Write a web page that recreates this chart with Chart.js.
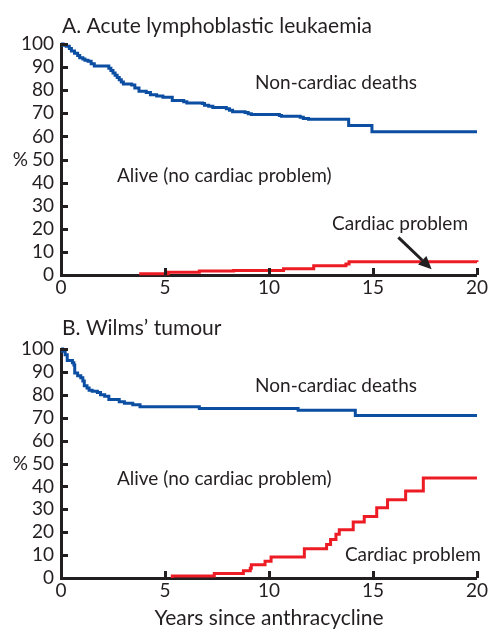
<!DOCTYPE html>
<html>
<head>
<meta charset="utf-8">
<script src="https://cdn.jsdelivr.net/npm/chart.js@4.4.0/dist/chart.umd.min.js"></script>
<style>
  html, body { margin: 0; padding: 0; background: #ffffff; }
  canvas { display: block; }
</style>
</head>
<body>
<canvas id="chartA" width="489" height="300"></canvas>
<canvas id="chartB" width="489" height="332"></canvas>
<script>
// ---------- Data ----------
const xTicks = [0, 5, 10, 15, 20];
const yTicks = [0, 10, 20, 30, 40, 50, 60, 70, 80, 90, 100];

// Panel A: Acute lymphoblastic leukaemia
const allBlueYears = [0, 0.1, 0.25, 0.4, 0.5, 0.65, 0.8, 0.9, 1.05, 1.15, 1.3, 1.45, 1.6, 2.3, 2.4, 2.5, 2.6, 2.7, 2.8, 2.9, 3.0, 3.4, 3.55, 3.75, 4.1, 4.3, 4.6, 4.9, 5.35, 5.9, 6.05, 6.8, 6.9, 7.1, 7.3, 7.95, 8.1, 8.25, 8.85, 9.0, 9.15, 10.5, 10.6, 11.5, 11.65, 11.9, 13.83, 14.95, 20];
const allBlueValues = [100, 99.5, 99, 98, 97, 96, 95, 94, 93.5, 93, 92.5, 91.5, 90.5, 89.5, 88.5, 87.5, 86.5, 85.5, 84.5, 83.5, 82.7, 82.2, 81, 79.5, 79, 78, 77.5, 77, 75.5, 75, 74.5, 74.2, 73.5, 73, 72.5, 72, 71.3, 70.7, 70.4, 69.8, 69.5, 69, 68.7, 68.3, 67.8, 67.4, 64.7, 62, 62];
const allRedYears = [3.76, 5.16, 6.65, 8.3, 9.0, 10.7, 12.15, 13.7, 13.85, 20];
const allRedValues = [0.5, 1.2, 1.7, 1.9, 2.0, 2.7, 4.0, 4.8, 5.7, 5.6];

// Panel B: Wilms' tumour
const wilmsBlueYears = [0, 0.08, 0.2, 0.3, 0.55, 0.62, 0.66, 0.8, 0.95, 1.05, 1.12, 1.25, 1.35, 1.5, 1.75, 1.9, 2.1, 2.3, 2.8, 3.05, 3.45, 3.8, 6.65, 11.4, 14.15, 20];
const wilmsBlueValues = [100, 99, 97.5, 95, 94, 93, 89.5, 88.3, 87.5, 86, 84, 83, 82, 81.5, 81, 80, 79.4, 78, 77, 76.3, 75.7, 74.8, 74, 73.2, 71, 71];
const wilmsRedYears = [5.35, 5.35, 7.37, 8.77, 9.1, 9.15, 9.81, 10.1, 11.7, 12.77, 12.96, 13.22, 13.38, 14.05, 14.58, 15.18, 15.7, 16.57, 17.42, 20];
const wilmsRedValues = [0, 0.9, 2.0, 3.2, 4.3, 5.8, 7.3, 9.2, 12.8, 14.6, 16.8, 19.1, 21.1, 24.5, 26.9, 30.7, 34.2, 38.0, 43.7, 43.7];

const titleA = 'A. Acute lymphoblastic leukaemia';
const titleB = 'B. Wilms\u2019 tumour';
const xAxisTitle = 'Years since anthracycline';
const labelDeaths = 'Non-cardiac deaths';
const labelAlive = 'Alive (no cardiac problem)';
const labelCardiac = 'Cardiac problem';
const yUnit = '%';

// ---------- Styling ----------
const FONT = 'Lato, "Open Sans", sans-serif';
const INK = '#231f20';
const BLUE = '#0b4ea2';
const RED = '#ed1c24';

function pts(xs, ys) { return xs.map((x, i) => ({ x: x, y: ys[i] })); }

const annotPlugin = {
  id: 'annot',
  afterDraw(chart, args, opts) {
    const ctx = chart.ctx;
    const xs = chart.scales.x, ys = chart.scales.y;
    const ca = chart.chartArea;
    ctx.save();
    // inward tick marks
    ctx.strokeStyle = INK;
    ctx.lineWidth = 3;
    ctx.beginPath();
    yTicks.forEach(v => {
      const py = Math.round(ys.getPixelForValue(v)) + 0.5;
      ctx.moveTo(ca.left, py); ctx.lineTo(ca.left + 7, py);
    });
    xTicks.forEach(v => {
      const px = Math.round(xs.getPixelForValue(v)) + 0.5;
      ctx.moveTo(px, ca.bottom); ctx.lineTo(px, ca.bottom - 7);
    });
    ctx.stroke();
    // title
    ctx.fillStyle = INK;
    ctx.textBaseline = 'alphabetic';
    ctx.textAlign = 'left';
    ctx.font = '21px ' + FONT;
    ctx.fillText(opts.title, ca.left + 1, opts.titleBaseline);
    // percent sign
    ctx.font = '19px ' + FONT;
    ctx.textAlign = 'right';
    ctx.textBaseline = 'middle';
    ctx.fillText(yUnit, 28, ys.getPixelForValue(50));
    // labels
    ctx.textAlign = 'left';
    ctx.textBaseline = 'alphabetic';
    ctx.font = '19px ' + FONT;
    opts.texts.forEach(t => {
      ctx.fillText(t.text, xs.getPixelForValue(t.x), ys.getPixelForValue(t.y));
    });
    // arrow
    if (opts.arrow) {
      const a = opts.arrow;
      const x1 = xs.getPixelForValue(a.x1), y1 = ys.getPixelForValue(a.y1);
      const x2 = xs.getPixelForValue(a.x2), y2 = ys.getPixelForValue(a.y2);
      const ang = Math.atan2(y2 - y1, x2 - x1);
      const hl = 13, hw = 6;
      const bx = x2 - hl * Math.cos(ang), by = y2 - hl * Math.sin(ang);
      ctx.strokeStyle = INK;
      ctx.lineWidth = 3;
      ctx.beginPath();
      ctx.moveTo(x1, y1); ctx.lineTo(bx, by);
      ctx.stroke();
      ctx.fillStyle = INK;
      ctx.beginPath();
      ctx.moveTo(x2, y2);
      ctx.lineTo(bx + hw * Math.sin(ang), by - hw * Math.cos(ang));
      ctx.lineTo(bx - hw * Math.sin(ang), by + hw * Math.cos(ang));
      ctx.closePath();
      ctx.fill();
    }
    ctx.restore();
  }
};

function makeChart(id, blue, red, annot, xHeight, showXTitle, padTop) {
  return new Chart(document.getElementById(id), {
    type: 'line',
    data: {
      datasets: [
        { data: blue, borderColor: BLUE, borderWidth: 3, pointRadius: 0, stepped: true, fill: false, clip: 6 },
        { data: red, borderColor: RED, borderWidth: 3, pointRadius: 0, stepped: true, fill: false, clip: 6 }
      ]
    },
    options: {
      responsive: false,
      animation: false,
      events: [],
      layout: { padding: { top: padTop, right: 12, left: 0, bottom: 0 } },
      plugins: {
        legend: { display: false },
        tooltip: { enabled: false },
        title: { display: false },
        annot: annot
      },
      scales: {
        x: {
          type: 'linear', min: 0, max: 20,
          afterFit(s) { s.height = xHeight; },
          afterBuildTicks(s) { s.ticks = xTicks.map(v => ({ value: v })); },
          grid: { display: false, drawTicks: false },
          border: { display: true, width: 3, color: INK },
          ticks: { color: INK, font: { family: FONT, size: 19 }, padding: 1, maxRotation: 0, autoSkip: false },
          title: { display: showXTitle, text: xAxisTitle, color: INK, font: { family: FONT, size: 21 }, padding: { top: 0, bottom: 1 } }
        },
        y: {
          type: 'linear', min: 0, max: 100,
          afterFit(s) { s.width = 61; },
          afterBuildTicks(s) { s.ticks = yTicks.map(v => ({ value: v })); },
          grid: { display: false, drawTicks: false },
          border: { display: true, width: 3, color: INK },
          ticks: { color: INK, font: { family: FONT, size: 19 }, padding: 7, autoSkip: false }
        }
      }
    },
    plugins: [annotPlugin]
  });
}

makeChart('chartA', pts(allBlueYears, allBlueValues), pts(allRedYears, allRedValues), {
  title: titleA, titleBaseline: 33,
  texts: [
    { text: labelDeaths, x: 9.33, y: 80.5 },
    { text: labelAlive, x: 2.69, y: 40.3 },
    { text: labelCardiac, x: 13.03, y: 19.5 }
  ],
  arrow: { x1: 16.22, y1: 16.3, x2: 17.82, y2: 2.5 }
}, 25, false, 44);

makeChart('chartB', pts(wilmsBlueYears, wilmsBlueValues), pts(wilmsRedYears, wilmsRedValues), {
  title: titleB, titleBaseline: 35,
  texts: [
    { text: labelDeaths, x: 9.33, y: 81.4 },
    { text: labelAlive, x: 2.69, y: 40.6 },
    { text: labelCardiac, x: 13.65, y: 7.4 }
  ],
  arrow: null
}, 54, true, 49);
</script>
</body>
</html>
